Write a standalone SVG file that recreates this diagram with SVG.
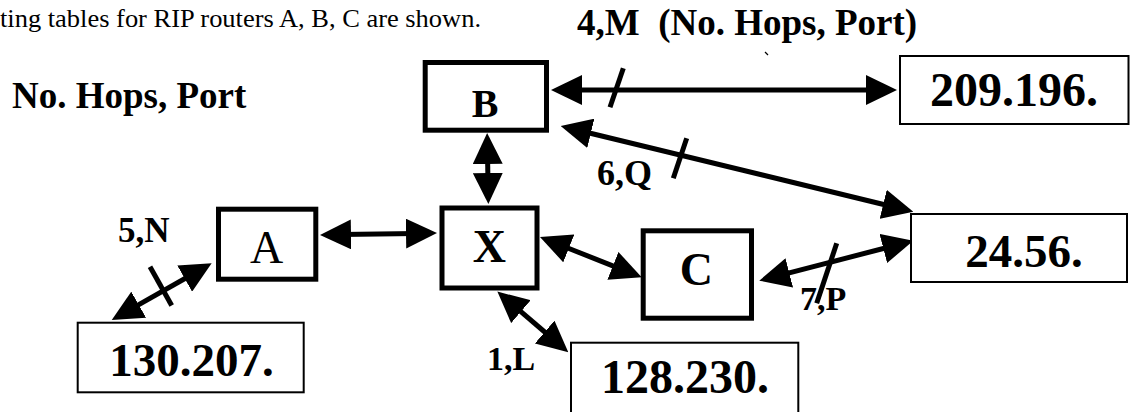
<svg xmlns="http://www.w3.org/2000/svg" width="1131" height="412" viewBox="0 0 1131 412">
<style>
.t{font-family:"Liberation Serif","Times New Roman",serif;fill:#000}
.b{font-weight:bold}
.rt{fill:#fff;stroke:#000;stroke-width:5}
.nt{fill:#fff;stroke:#000;stroke-width:2}
.c{stroke:#000;stroke-width:5;fill:none;marker-start:url(#ah);marker-end:url(#ah)}
.tk{stroke:#000;stroke-width:5;fill:none}
</style>
<defs>
<marker id="ah" viewBox="0 0 31 30" refX="10" refY="15" markerWidth="31" markerHeight="30" markerUnits="userSpaceOnUse" orient="auto-start-reverse">
<path d="M0,0 L31,15 L0,30 Z" fill="#000"/>
</marker>
</defs>
<rect width="1131" height="412" fill="#fff"/>
<text class="t" x="0" y="27" font-size="26" textLength="481" lengthAdjust="spacingAndGlyphs">ting tables for RIP routers A, B, C are shown.</text>
<text class="t b" x="12" y="108" font-size="37">No. Hops, Port</text>
<text class="t b" x="577" y="35" font-size="37" xml:space="preserve">4,M  (No. Hops, Port)</text>
<path d="M765,52 L768,55" stroke="#000" stroke-width="1.2"/>

<g id="connectors">
<line class="c" x1="572" y1="90" x2="876" y2="90"/>
<line class="c" x1="487.5" y1="154" x2="488" y2="183"/>
<line class="c" x1="341" y1="234.6" x2="416" y2="233.4"/>
<line class="c" x1="559.5" y1="244.7" x2="622.2" y2="269.6"/>
<line class="c" x1="513.3" y1="305.2" x2="552.3" y2="338.5"/>
<line class="c" x1="779.6" y1="275.4" x2="893" y2="246"/>
<line class="c" x1="581.1" y1="131" x2="892.9" y2="206.7"/>
<line class="c" x1="193.4" y1="273.7" x2="130" y2="309.6"/>
<line class="tk" x1="623.3" y1="68.3" x2="610" y2="107.3"/>
<line class="tk" x1="686.7" y1="138.3" x2="673.3" y2="178.3"/>
<line class="tk" x1="836.7" y1="243.3" x2="816.7" y2="303.3"/>
<line class="tk" x1="150" y1="266.7" x2="171.7" y2="305.5"/>
</g>

<g id="label-5N"><text class="t b" x="118" y="242" font-size="35">5,N</text></g>
<g id="label-6Q"><text class="t b" x="597" y="185" font-size="36">6,Q</text></g>
<g id="label-7P"><text class="t b" x="800" y="310" font-size="34">7,P</text></g>
<g id="label-1L"><text class="t b" x="487" y="370" font-size="34">1,L</text></g>

<g id="node-B">
<rect class="rt" x="425.2" y="62.5" width="121.3" height="67.7"/>
<text class="t b" x="485" y="116.7" font-size="40" text-anchor="middle">B</text>
</g>
<g id="node-A">
<rect class="rt" x="218.5" y="209.2" width="97.3" height="70"/>
<text class="t" x="266.7" y="263.3" font-size="46" text-anchor="middle">A</text>
</g>
<g id="node-X">
<rect class="rt" x="442" y="208" width="95" height="80"/>
<text class="t b" x="489.3" y="261.7" font-size="46" text-anchor="middle">X</text>
</g>
<g id="node-C">
<rect class="rt" x="643.2" y="230.8" width="108.3" height="87.4"/>
<text class="t b" x="696.3" y="285" font-size="46" text-anchor="middle">C</text>
</g>
<g id="net-209">
<rect class="nt" x="900" y="56" width="228.5" height="68"/>
<text class="t b" x="1014" y="106" font-size="48" text-anchor="middle">209.196.</text>
</g>
<g id="net-24">
<rect class="nt" x="911" y="214" width="216" height="68"/>
<text class="t b" x="1024" y="266.7" font-size="47" text-anchor="middle">24.56.</text>
</g>
<g id="net-130">
<rect class="nt" x="77.7" y="322.7" width="226" height="69.6"/>
<text class="t b" x="191.5" y="375.7" font-size="47" text-anchor="middle">130.207.</text>
</g>
<g id="net-128">
<rect class="nt" x="571" y="342.7" width="227.3" height="80"/>
<text class="t b" x="685" y="393.3" font-size="48" text-anchor="middle">128.230.</text>
</g>
</svg>
